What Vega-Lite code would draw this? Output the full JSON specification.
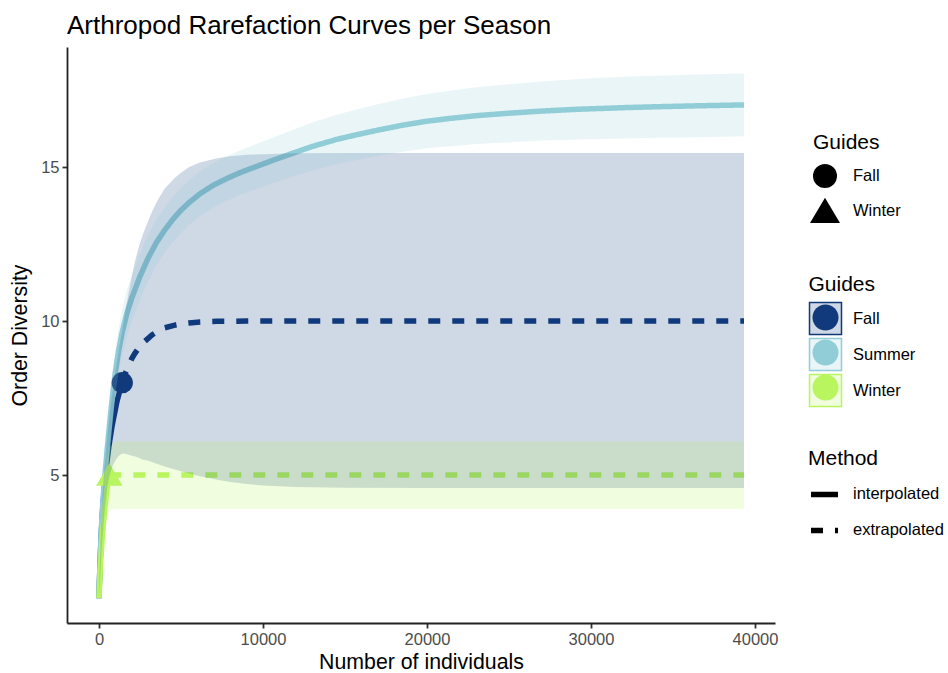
{
  "$schema": "https://vega.github.io/schema/vega-lite/v6.json",
  "autosize": {"type": "none"},
  "width": 708,
  "height": 576,
  "padding": {"left": 67, "top": 47, "right": 173, "bottom": 50},
  "background": "white",
  "title": {
    "text": "Arthropod Rarefaction Curves per Season",
    "anchor": "start",
    "frame": "group",
    "font": "Liberation Sans",
    "fontSize": 26,
    "fontWeight": "normal",
    "color": "black",
    "baseline": "alphabetic",
    "offset": 15,
    "dy": 28
  },
  "config": {
    "view": {"stroke": null},
    "axis": {
      "grid": false,
      "domainColor": "#222222",
      "domainWidth": 1.8,
      "tickColor": "#333333",
      "tickWidth": 1.8,
      "tickSize": 5,
      "labelFont": "Liberation Sans",
      "labelFontSize": 16.5,
      "labelColor": "#4D4D4D",
      "labelPadding": 3,
      "titleFont": "Liberation Sans",
      "titleFontSize": 21.3,
      "titleFontWeight": "normal",
      "titleColor": "black"
    },
    "legend": {
      "orient": "none",
      "padding": 0,
      "titleFont": "Liberation Sans",
      "titleFontSize": 21,
      "titleFontWeight": "normal",
      "titleColor": "black",
      "labelFont": "Liberation Sans",
      "labelFontSize": 16.5,
      "labelColor": "black"
    }
  },
  "datasets": {
    "curves": [
      {"season": "Fall", "method": "interpolated", "n": 1, "qD": 1.0, "lcl": 1.0, "ucl": 1.0},
      {"season": "Fall", "method": "interpolated", "n": 25, "qD": 1.5, "lcl": 1.3, "ucl": 1.6},
      {"season": "Fall", "method": "interpolated", "n": 50, "qD": 1.9, "lcl": 1.5, "ucl": 2.1},
      {"season": "Fall", "method": "interpolated", "n": 100, "qD": 2.6, "lcl": 2.0, "ucl": 2.8},
      {"season": "Fall", "method": "interpolated", "n": 150, "qD": 3.2, "lcl": 2.5, "ucl": 3.6},
      {"season": "Fall", "method": "interpolated", "n": 220, "qD": 3.85, "lcl": 3.0, "ucl": 4.3},
      {"season": "Fall", "method": "interpolated", "n": 300, "qD": 4.4, "lcl": 3.6, "ucl": 5.0},
      {"season": "Fall", "method": "interpolated", "n": 400, "qD": 5.0, "lcl": 4.1, "ucl": 5.6},
      {"season": "Fall", "method": "interpolated", "n": 500, "qD": 5.5, "lcl": 4.6, "ucl": 6.2},
      {"season": "Fall", "method": "interpolated", "n": 650, "qD": 6.1, "lcl": 5.0, "ucl": 7.0},
      {"season": "Fall", "method": "interpolated", "n": 800, "qD": 6.6, "lcl": 5.25, "ucl": 7.6},
      {"season": "Fall", "method": "interpolated", "n": 950, "qD": 7.0, "lcl": 5.42, "ucl": 8.2},
      {"season": "Fall", "method": "interpolated", "n": 1100, "qD": 7.4, "lcl": 5.55, "ucl": 8.7},
      {"season": "Fall", "method": "interpolated", "n": 1250, "qD": 7.7, "lcl": 5.64, "ucl": 9.2},
      {"season": "Fall", "method": "interpolated", "n": 1420, "qD": 8.0, "lcl": 5.7, "ucl": 9.7},
      {"season": "Fall", "method": "extrapolated", "n": 1420, "qD": 8.0, "lcl": 5.7, "ucl": 9.7},
      {"season": "Fall", "method": "extrapolated", "n": 1600, "qD": 8.3, "lcl": 5.69, "ucl": 10.3},
      {"season": "Fall", "method": "extrapolated", "n": 1800, "qD": 8.55, "lcl": 5.66, "ucl": 10.9},
      {"season": "Fall", "method": "extrapolated", "n": 2000, "qD": 8.78, "lcl": 5.63, "ucl": 11.45},
      {"season": "Fall", "method": "extrapolated", "n": 2200, "qD": 8.96, "lcl": 5.6, "ucl": 11.95},
      {"season": "Fall", "method": "extrapolated", "n": 2450, "qD": 9.15, "lcl": 5.55, "ucl": 12.45},
      {"season": "Fall", "method": "extrapolated", "n": 2700, "qD": 9.3, "lcl": 5.5, "ucl": 12.85},
      {"season": "Fall", "method": "extrapolated", "n": 3000, "qD": 9.44, "lcl": 5.46, "ucl": 13.25},
      {"season": "Fall", "method": "extrapolated", "n": 3230, "qD": 9.55, "lcl": 5.42, "ucl": 13.55},
      {"season": "Fall", "method": "extrapolated", "n": 3600, "qD": 9.67, "lcl": 5.35, "ucl": 13.95},
      {"season": "Fall", "method": "extrapolated", "n": 4000, "qD": 9.78, "lcl": 5.28, "ucl": 14.3},
      {"season": "Fall", "method": "extrapolated", "n": 4630, "qD": 9.87, "lcl": 5.18, "ucl": 14.65},
      {"season": "Fall", "method": "extrapolated", "n": 5000, "qD": 9.91, "lcl": 5.12, "ucl": 14.82},
      {"season": "Fall", "method": "extrapolated", "n": 5500, "qD": 9.94, "lcl": 5.05, "ucl": 15.0},
      {"season": "Fall", "method": "extrapolated", "n": 6160, "qD": 9.97, "lcl": 4.96, "ucl": 15.15},
      {"season": "Fall", "method": "extrapolated", "n": 7200, "qD": 9.99, "lcl": 4.85, "ucl": 15.29},
      {"season": "Fall", "method": "extrapolated", "n": 8000, "qD": 9.99, "lcl": 4.77, "ucl": 15.35},
      {"season": "Fall", "method": "extrapolated", "n": 9000, "qD": 10.0, "lcl": 4.71, "ucl": 15.4},
      {"season": "Fall", "method": "extrapolated", "n": 10000, "qD": 10.0, "lcl": 4.66, "ucl": 15.42},
      {"season": "Fall", "method": "extrapolated", "n": 12000, "qD": 10.0, "lcl": 4.61, "ucl": 15.45},
      {"season": "Fall", "method": "extrapolated", "n": 15000, "qD": 10.0, "lcl": 4.59, "ucl": 15.46},
      {"season": "Fall", "method": "extrapolated", "n": 20000, "qD": 10.0, "lcl": 4.58, "ucl": 15.46},
      {"season": "Fall", "method": "extrapolated", "n": 25000, "qD": 10.0, "lcl": 4.58, "ucl": 15.46},
      {"season": "Fall", "method": "extrapolated", "n": 30000, "qD": 10.0, "lcl": 4.58, "ucl": 15.46},
      {"season": "Fall", "method": "extrapolated", "n": 35000, "qD": 10.0, "lcl": 4.58, "ucl": 15.46},
      {"season": "Fall", "method": "extrapolated", "n": 39330, "qD": 10.0, "lcl": 4.58, "ucl": 15.46},
      {"season": "Summer", "method": "interpolated", "n": 1, "qD": 1.0, "lcl": 1.0, "ucl": 1.0},
      {"season": "Summer", "method": "interpolated", "n": 20, "qD": 1.45, "lcl": 1.3, "ucl": 1.6},
      {"season": "Summer", "method": "interpolated", "n": 40, "qD": 1.8, "lcl": 1.6, "ucl": 2.0},
      {"season": "Summer", "method": "interpolated", "n": 80, "qD": 2.45, "lcl": 2.15, "ucl": 2.75},
      {"season": "Summer", "method": "interpolated", "n": 120, "qD": 3.0, "lcl": 2.65, "ucl": 3.35},
      {"season": "Summer", "method": "interpolated", "n": 180, "qD": 3.65, "lcl": 3.25, "ucl": 4.05},
      {"season": "Summer", "method": "interpolated", "n": 250, "qD": 4.25, "lcl": 3.8, "ucl": 4.7},
      {"season": "Summer", "method": "interpolated", "n": 370, "qD": 5.05, "lcl": 4.55, "ucl": 5.55},
      {"season": "Summer", "method": "interpolated", "n": 500, "qD": 5.85, "lcl": 5.3, "ucl": 6.4},
      {"season": "Summer", "method": "interpolated", "n": 600, "qD": 6.4, "lcl": 5.8, "ucl": 7.0},
      {"season": "Summer", "method": "interpolated", "n": 700, "qD": 6.95, "lcl": 6.33, "ucl": 7.57},
      {"season": "Summer", "method": "interpolated", "n": 850, "qD": 7.7, "lcl": 7.04, "ucl": 8.36},
      {"season": "Summer", "method": "interpolated", "n": 1000, "qD": 8.35, "lcl": 7.65, "ucl": 9.05},
      {"season": "Summer", "method": "interpolated", "n": 1200, "qD": 9.05, "lcl": 8.33, "ucl": 9.77},
      {"season": "Summer", "method": "interpolated", "n": 1420, "qD": 9.65, "lcl": 8.9, "ucl": 10.4},
      {"season": "Summer", "method": "interpolated", "n": 1700, "qD": 10.25, "lcl": 9.5, "ucl": 11.0},
      {"season": "Summer", "method": "interpolated", "n": 2000, "qD": 10.75, "lcl": 10.0, "ucl": 11.5},
      {"season": "Summer", "method": "interpolated", "n": 2500, "qD": 11.45, "lcl": 10.7, "ucl": 12.2},
      {"season": "Summer", "method": "interpolated", "n": 3000, "qD": 12.05, "lcl": 11.3, "ucl": 12.8},
      {"season": "Summer", "method": "interpolated", "n": 3500, "qD": 12.55, "lcl": 11.81, "ucl": 13.29},
      {"season": "Summer", "method": "interpolated", "n": 4000, "qD": 12.95, "lcl": 12.21, "ucl": 13.69},
      {"season": "Summer", "method": "interpolated", "n": 4500, "qD": 13.3, "lcl": 12.57, "ucl": 14.03},
      {"season": "Summer", "method": "interpolated", "n": 5000, "qD": 13.6, "lcl": 12.87, "ucl": 14.33},
      {"season": "Summer", "method": "interpolated", "n": 5500, "qD": 13.85, "lcl": 13.13, "ucl": 14.57},
      {"season": "Summer", "method": "interpolated", "n": 6200, "qD": 14.15, "lcl": 13.43, "ucl": 14.87},
      {"season": "Summer", "method": "interpolated", "n": 7000, "qD": 14.42, "lcl": 13.7, "ucl": 15.14},
      {"season": "Summer", "method": "interpolated", "n": 7800, "qD": 14.63, "lcl": 13.91, "ucl": 15.35},
      {"season": "Summer", "method": "interpolated", "n": 8600, "qD": 14.82, "lcl": 14.1, "ucl": 15.54},
      {"season": "Summer", "method": "interpolated", "n": 9500, "qD": 15.0, "lcl": 14.27, "ucl": 15.73},
      {"season": "Summer", "method": "interpolated", "n": 10500, "qD": 15.2, "lcl": 14.46, "ucl": 15.94},
      {"season": "Summer", "method": "interpolated", "n": 11650, "qD": 15.42, "lcl": 14.67, "ucl": 16.17},
      {"season": "Summer", "method": "interpolated", "n": 13000, "qD": 15.67, "lcl": 14.89, "ucl": 16.45},
      {"season": "Summer", "method": "interpolated", "n": 14500, "qD": 15.9, "lcl": 15.1, "ucl": 16.7},
      {"season": "Summer", "method": "interpolated", "n": 15700, "qD": 16.05, "lcl": 15.23, "ucl": 16.87},
      {"season": "Summer", "method": "interpolated", "n": 17000, "qD": 16.2, "lcl": 15.36, "ucl": 17.04},
      {"season": "Summer", "method": "interpolated", "n": 18500, "qD": 16.36, "lcl": 15.5, "ucl": 17.22},
      {"season": "Summer", "method": "interpolated", "n": 20000, "qD": 16.49, "lcl": 15.61, "ucl": 17.37},
      {"season": "Summer", "method": "interpolated", "n": 21400, "qD": 16.58, "lcl": 15.68, "ucl": 17.48},
      {"season": "Summer", "method": "interpolated", "n": 23000, "qD": 16.67, "lcl": 15.75, "ucl": 17.59},
      {"season": "Summer", "method": "interpolated", "n": 25000, "qD": 16.75, "lcl": 15.81, "ucl": 17.69},
      {"season": "Summer", "method": "interpolated", "n": 27000, "qD": 16.82, "lcl": 15.86, "ucl": 17.78},
      {"season": "Summer", "method": "interpolated", "n": 29300, "qD": 16.88, "lcl": 15.9, "ucl": 17.86},
      {"season": "Summer", "method": "interpolated", "n": 32000, "qD": 16.93, "lcl": 15.93, "ucl": 17.93},
      {"season": "Summer", "method": "interpolated", "n": 34000, "qD": 16.96, "lcl": 15.95, "ucl": 17.97},
      {"season": "Summer", "method": "interpolated", "n": 36500, "qD": 16.99, "lcl": 15.97, "ucl": 18.01},
      {"season": "Summer", "method": "interpolated", "n": 39330, "qD": 17.02, "lcl": 16.0, "ucl": 18.04},
      {"season": "Winter", "method": "interpolated", "n": 1, "qD": 1.0, "lcl": 1.0, "ucl": 1.0},
      {"season": "Winter", "method": "interpolated", "n": 80, "qD": 2.0, "lcl": 1.6, "ucl": 2.5},
      {"season": "Winter", "method": "interpolated", "n": 200, "qD": 3.0, "lcl": 2.4, "ucl": 3.8},
      {"season": "Winter", "method": "interpolated", "n": 350, "qD": 3.9, "lcl": 3.2, "ucl": 4.9},
      {"season": "Winter", "method": "interpolated", "n": 480, "qD": 4.5, "lcl": 3.6, "ucl": 5.5},
      {"season": "Winter", "method": "interpolated", "n": 630, "qD": 5.0, "lcl": 3.85, "ucl": 5.9},
      {"season": "Winter", "method": "extrapolated", "n": 630, "qD": 5.0, "lcl": 3.85, "ucl": 5.9},
      {"season": "Winter", "method": "extrapolated", "n": 1000, "qD": 5.0, "lcl": 3.9, "ucl": 6.08},
      {"season": "Winter", "method": "extrapolated", "n": 1500, "qD": 5.0, "lcl": 3.9, "ucl": 6.1},
      {"season": "Winter", "method": "extrapolated", "n": 3000, "qD": 5.0, "lcl": 3.9, "ucl": 6.1},
      {"season": "Winter", "method": "extrapolated", "n": 6000, "qD": 5.0, "lcl": 3.9, "ucl": 6.1},
      {"season": "Winter", "method": "extrapolated", "n": 10000, "qD": 5.0, "lcl": 3.9, "ucl": 6.1},
      {"season": "Winter", "method": "extrapolated", "n": 20000, "qD": 5.0, "lcl": 3.9, "ucl": 6.1},
      {"season": "Winter", "method": "extrapolated", "n": 30000, "qD": 5.0, "lcl": 3.9, "ucl": 6.1},
      {"season": "Winter", "method": "extrapolated", "n": 39330, "qD": 5.0, "lcl": 3.9, "ucl": 6.1}
    ],
    "observed": [
      {"season": "Fall", "n": 1420, "qD": 8.0},
      {"season": "Winter", "n": 630, "qD": 5.0}
    ]
  },
  "data": {"name": "curves"},
  "encoding": {
    "x": {
      "field": "n",
      "type": "quantitative",
      "scale": {"domain": [-1951, 41220], "nice": false, "zero": false},
      "axis": {
        "values": [0, 10000, 20000, 30000, 40000],
        "format": "d",
        "title": "Number of individuals",
        "titlePadding": 4,
        "labelFlush": false,
        "labelOverlap": false
      }
    },
    "y": {
      "field": "qD",
      "type": "quantitative",
      "scale": {"domain": [0.195, 18.9], "nice": false, "zero": false},
      "axis": {
        "values": [5, 10, 15],
        "title": "Order Diversity",
        "titlePadding": 10.5
      }
    }
  },
  "layer": [
    {
      "mark": {"type": "line", "strokeWidth": 5.5, "strokeCap": "butt"},
      "encoding": {
        "color": {
          "field": "season",
          "type": "nominal",
          "scale": {"range": ["#113A7B", "#91CDD8", "#B9F55F"]},
          "legend": {
            "title": null,
            "legendX": 745.5,
            "legendY": 257.5,
            "symbolType": "circle",
            "symbolSize": 676,
            "symbolStrokeWidth": 0,
            "symbolOpacity": 1,
            "rowPadding": 9,
            "labelExpr": "''"
          }
        },
        "strokeDash": {
          "field": "method",
          "type": "nominal",
          "scale": {"domain": ["interpolated", "extrapolated"], "range": [[1, 0], [12, 12]]},
          "legend": {
            "title": "Method",
            "legendX": 741,
            "legendY": 401,
            "symbolType": "stroke",
            "symbolSize": 729,
            "symbolStrokeWidth": 5.5,
            "symbolStrokeColor": "black",
            "titlePadding": 8.9,
            "rowPadding": 8,
            "labelOffset": 12
          }
        }
      }
    },
    {
      "data": {"name": "observed"},
      "mark": {"type": "point", "filled": true, "opacity": 1, "size": 450},
      "encoding": {
        "color": {
          "field": "season",
          "type": "nominal",
          "legend": {
            "title": null,
            "legendX": 745.5,
            "legendY": 257.5,
            "symbolType": "circle",
            "symbolSize": 676,
            "symbolStrokeWidth": 0,
            "symbolOpacity": 1,
            "rowPadding": 9,
            "labelExpr": "''"
          }
        },
        "shape": {
          "field": "season",
          "type": "nominal",
          "scale": {"domain": ["Fall", "Winter"], "range": ["circle", "M0,-1.1L1.25,1L-1.25,1Z"]},
          "legend": {
            "title": "Guides",
            "legendX": 746,
            "legendY": 84.6,
            "symbolSize": 576,
            "symbolStrokeWidth": 0,
            "symbolFillColor": "black",
            "titlePadding": 11.4,
            "rowPadding": 9,
            "labelOffset": 16
          }
        }
      }
    },
    {
      "mark": {"type": "area"},
      "encoding": {
        "y": {"field": "lcl", "type": "quantitative"},
        "y2": {"field": "ucl"},
        "fill": {
          "field": "season",
          "type": "nominal",
          "scale": {
            "domain": ["Fall", "Summer", "Winter"],
            "range": ["rgba(17,58,123,0.2)", "rgba(145,205,216,0.2)", "rgba(185,245,95,0.2)"]
          },
          "legend": {
            "title": "Guides",
            "legendX": 741.5,
            "legendY": 227.1,
            "symbolType": "square",
            "symbolSize": 1024,
            "symbolStrokeWidth": 1.5,
            "symbolOpacity": 1,
            "titlePadding": 6.4,
            "rowPadding": -4,
            "labelOffset": 10.5
          }
        }
      }
    },
    {
      "mark": {"type": "point", "opacity": 0},
      "encoding": {
        "stroke": {
          "field": "season",
          "type": "nominal",
          "scale": {
            "domain": ["Fall", "Summer", "Winter"],
            "range": ["#113A7B", "#91CDD8", "#B9F55F"]
          },
          "legend": {
            "title": "Guides",
            "legendX": 741.5,
            "legendY": 227.1,
            "symbolType": "square",
            "symbolSize": 1024,
            "symbolStrokeWidth": 1.5,
            "symbolOpacity": 1,
            "titlePadding": 6.4,
            "rowPadding": -4,
            "labelOffset": 10.5
          }
        }
      }
    }
  ]
}
